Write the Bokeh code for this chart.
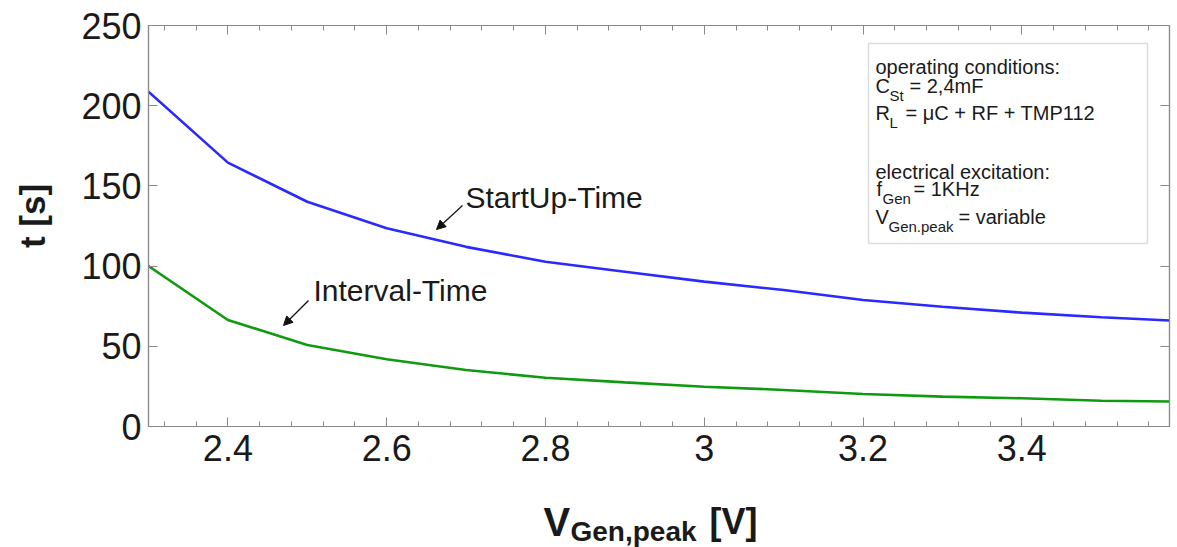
from bokeh.plotting import figure
from bokeh.models import (Range1d, FixedTicker, LinearAxis, Label, Arrow, NormalHead,
                          BoxAnnotation)
from bokeh.layouts import row, column
from bokeh.core.properties import value
from bokeh.embed import file_html
from bokeh.resources import INLINE
import math

# ---- data ----
v_gen = [2.3, 2.4, 2.5, 2.6, 2.7, 2.8, 2.9, 3.0, 3.1, 3.2, 3.3, 3.4, 3.5, 3.6]
startup_time = [208.7, 164.5, 140.1, 123.6, 112.0, 102.7, 96.5, 90.3, 85.1, 78.9, 74.7, 71.0, 68.1, 65.8]
interval_time = [100.0, 66.4, 50.8, 41.9, 35.2, 30.4, 27.5, 24.8, 22.8, 20.3, 18.6, 17.6, 16.1, 15.5]

x_ticks = [2.4, 2.6, 2.8, 3.0, 3.2, 3.4]
x_tick_labels = ["2.4", "2.6", "2.8", "3", "3.2", "3.4"]
x_minor = [round(2.32 + 0.04 * i, 2) for i in range(33)]
y_ticks = [0, 50, 100, 150, 200, 250]

FONT = "Liberation Sans"
TXT = "#1a1a1a"
W, H = 1177, 547
YLAB_W = 70            # width of the strip holding the y title
MAIN_H = 480           # height of the main figure
XLAB_H = H - MAIN_H    # strip holding the x title
FL_PAGE, FT, FR = 148, 25, 8
FRAME_BOTTOM_PX = 426


def sx(px):
    return px - FL_PAGE


def sy(py):
    return FRAME_BOTTOM_PX - py


p = figure(width=W - YLAB_W, height=MAIN_H, x_range=Range1d(2.3, 3.586), y_range=Range1d(0, 250),
           output_backend="svg", toolbar_location=None,
           min_border_left=FL_PAGE - YLAB_W, min_border_right=FR, min_border_top=FT,
           min_border_bottom=MAIN_H - FRAME_BOTTOM_PX)
p.background_fill_color = "white"
p.border_fill_color = "white"
p.outline_line_color = "#8a8a8a"
p.outline_line_width = 1.2
p.xgrid.visible = False
p.ygrid.visible = False

xt = FixedTicker(ticks=x_ticks, minor_ticks=x_minor)
yt = FixedTicker(ticks=y_ticks, minor_ticks=[])


def style_axis(ax, ticks=None, labels=True):
    ax.axis_line_color = "#8a8a8a"
    ax.axis_line_width = 1.2
    ax.major_tick_line_color = "#8a8a8a"
    ax.minor_tick_line_color = "#8a8a8a"
    ax.major_tick_in = 9
    ax.major_tick_out = 0
    ax.minor_tick_in = 5
    ax.minor_tick_out = 0
    if labels:
        ax.major_label_text_font = FONT
        ax.major_label_text_font_size = "36px"
        ax.major_label_text_color = TXT
    else:
        ax.major_label_overrides = {t: "" for t in ticks}
        ax.major_label_text_font_size = "2px"
        ax.major_label_standoff = 0


p.xaxis.ticker = xt
p.xaxis.major_label_overrides = {t: l for t, l in zip(x_ticks, x_tick_labels)}
p.yaxis.ticker = yt
style_axis(p.xaxis[0])
style_axis(p.yaxis[0])
p.xaxis.major_label_standoff = 8
p.yaxis.major_label_standoff = 7

top_ax = LinearAxis(ticker=xt)
style_axis(top_ax, ticks=x_ticks, labels=False)
p.add_layout(top_ax, "above")
right_ax = LinearAxis(ticker=yt)
style_axis(right_ax, ticks=y_ticks, labels=False)
p.add_layout(right_ax, "right")

p.line(v_gen, startup_time, line_color="#2a2aff", line_width=2.6)
p.line(v_gen, interval_time, line_color="#109a10", line_width=2.6)

# ---- curve annotations ----
p.add_layout(Label(x=sx(465), y=sy(197), x_units="screen", y_units="screen",
                   text="StartUp-Time", text_font=FONT, text_font_size="30px",
                   text_color=TXT, text_baseline="alphabetic"))
p.add_layout(Label(x=sx(313), y=sy(290), x_units="screen", y_units="screen",
                   text="Interval-Time", text_font=FONT, text_font_size="30px",
                   text_color=TXT, text_baseline="alphabetic"))
for (x0, y0, x1, y1) in [(462, 205, 436, 229), (308, 300, 283, 325)]:
    p.add_layout(Arrow(end=NormalHead(size=9, fill_color="#111111", line_color="#111111"),
                       x_start=sx(x0), y_start=sy(y0), x_end=sx(x1), y_end=sy(y1),
                       start_units="screen", end_units="screen",
                       line_color="#111111", line_width=1.2))

# ---- info box ----
p.add_layout(BoxAnnotation(left=sx(868), right=sx(1147), top=sy(43), bottom=sy(243),
                           left_units="screen", right_units="screen",
                           top_units="screen", bottom_units="screen",
                           fill_color="white", fill_alpha=1.0,
                           line_color="#8a8a8a", line_width=1.5))

box_texts = [
    ("operating conditions:", 875, 66.7, 20),
    ("C", 875, 85, 20), ("St", 889, 95, 15), ("= 2,4mF", 909, 85, 20),
    ("R", 875, 112.7, 20), ("L", 889, 121.7, 15), ("= \u03bcC + RF + TMP112", 905, 112.7, 20),
    ("electrical excitation:", 875, 171.7, 20),
    ("f", 876, 188, 20), ("Gen", 882, 198, 15), ("= 1KHz", 913, 188, 20),
    ("V", 875, 216.7, 20), ("Gen.peak", 888, 226, 15), ("= variable", 958, 216.7, 20),
]
for txt, px, py, fs in box_texts:
    p.add_layout(Label(x=sx(px), y=sy(py), x_units="screen", y_units="screen",
                       text=txt, text_font=FONT, text_font_size=f"{fs}px",
                       text_color=TXT, text_baseline="alphabetic"))


def blank_fig(w, h):
    f = figure(width=w, height=h, x_range=Range1d(0, w), y_range=Range1d(0, h),
               output_backend="svg", toolbar_location=None,
               x_axis_type=None, y_axis_type=None, min_border=0)
    f.outline_line_color = None
    f.xgrid.visible = False
    f.ygrid.visible = False
    f.background_fill_color = "white"
    f.border_fill_color = "white"
    return f


# ---- y title strip ----
yf = blank_fig(YLAB_W, MAIN_H)
yf.text(x=[32], y=[MAIN_H - 228], text=["t [s]"], angle=math.pi / 2,
        text_font=value(FONT), text_font_style="bold", text_font_size="35px",
        text_color=TXT, text_align="center", text_baseline="middle")

# ---- x title strip ----
xf = blank_fig(W, XLAB_H)
x_title = [("V", 543, 521, "40px"), ("Gen,peak", 570, 531, "28px"), ("[V]", 709, 521, "36px")]
for txt, px, py, fs in x_title:
    xf.text(x=[px], y=[H - py], text=[txt], text_font=value(FONT), text_font_style="bold",
            text_font_size=fs, text_color=TXT, text_baseline="alphabetic")

layout = column(row(yf, p), xf)
open("out.html", "w").write(file_html(layout, INLINE))
